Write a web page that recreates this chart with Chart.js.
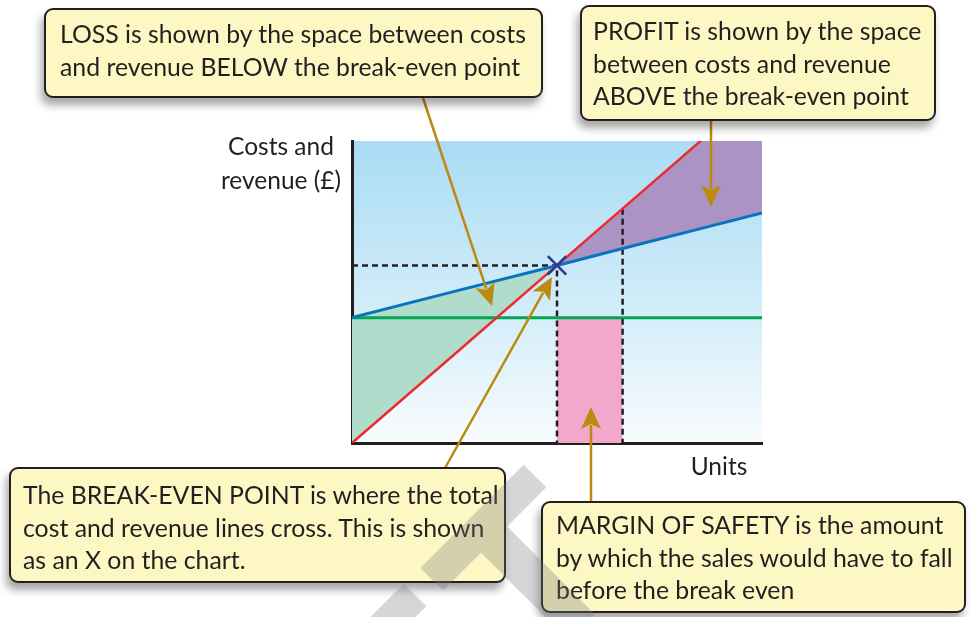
<!DOCTYPE html>
<html>
<head>
<meta charset="utf-8">
<script src="https://cdn.jsdelivr.net/npm/chart.js@4/dist/chart.umd.min.js"></script>
<style>
  body { margin: 0; width: 971px; height: 617px; overflow: hidden; background: #fff; position: relative; font-family: Lato, "Open Sans", sans-serif; color: #231f20; }
  #wrap { position: absolute; left: 0; top: 0; width: 971px; height: 617px; }
  .note { position: absolute; box-sizing: border-box; background: #fdf7c3; border: 2.5px solid #231f20; border-radius: 9px;
          box-shadow: -3px 7px 8px rgba(0,0,0,0.35); font-size: 24.8px; line-height: 32.5px; padding: 5px 0 0 14px; white-space: nowrap; }
  .axis { position: absolute; font-size: 24.5px; line-height: 34px; text-align: center; white-space: nowrap; }
  #marks { position: absolute; left: 0; top: 0; width: 971px; height: 617px; opacity: 0.3; pointer-events: none; overflow: hidden; }
  .mark { position: absolute; background: #787878; transform-origin: 0 50%; }
</style>
</head>
<body>
<div id="wrap"><canvas id="myChart" width="971" height="617"></canvas></div>

<div class="axis" style="left:201px; top:129px; width:160px;">Costs and<br>revenue (£)</div>
<div class="axis" style="left:679px; top:449px; width:80px;">Units</div>

<div class="note" style="left:44px; top:8px; width:499px; height:90px; padding-left:14px; padding-top:8px;">LOSS is shown by the space between costs<br>and revenue BELOW the break-even point</div>
<div class="note" style="left:580px; top:5px; width:356px; height:116px; padding-left:11px; padding-top:8px;">PROFIT is shown by the space<br>between costs and revenue<br>ABOVE the break-even point</div>
<div class="note" style="left:9px; top:467px; width:497px; height:116px; padding-left:12px; padding-top:10px;">The BREAK-EVEN POINT is where the total<br>cost and revenue lines cross. This is shown<br>as an X on the chart.</div>
<div class="note" style="left:541px; top:501px; width:425px; height:112px; padding-left:13px; padding-top:6px;">MARGIN OF SAFETY is the amount<br>by which the sales would have to fall<br>before the break even</div>

<!-- faint watermark bands -->
<div id="marks">
  <div class="mark" style="left:535px; top:460px; width:146px; height:32px; transform: rotate(135deg);"></div>
  <div class="mark" style="left:482.6px; top:510px; width:140px; height:37px; transform: rotate(45deg);"></div>
  <div class="mark" style="left:415px; top:579px; width:70px; height:32px; transform: rotate(135deg);"></div>
</div>

<script>
// units sold (0-100 on a blank axis) and the matching money values (0-100)
const units = [0, 25, 50, 66, 85, 100];
const fixedCosts = [41.5, 41.5, 41.5, 41.5, 41.5, 41.5];
const totalCosts = [41.5, 50.2, 58.8, 64.4, 71.0, 76.2];
const revenue = [0, 29.4, 58.8, 77.6, 100, 117.6];

const breakEvenUnits = 50;
const breakEvenValue = 58.8;
const salesUnits = 66;
const salesValue = 77.6;

const pts = (ys) => units.map((u, i) => ({ x: u, y: ys[i] }));

const bgPlugin = {
  id: "bg",
  beforeDraw(chart) {
    const { ctx, chartArea: a } = chart;
    const g = ctx.createLinearGradient(0, a.top, 0, a.bottom);
    g.addColorStop(0, "#a9dcf5");
    g.addColorStop(0.6, "#d6eef9");
    g.addColorStop(1, "#f8fcfe");
    ctx.save();
    ctx.fillStyle = g;
    ctx.fillRect(a.left, a.top, a.right - a.left, a.bottom - a.top);
    ctx.restore();
  },
};

// gold pointer arrows from the notes to the chart
const arrows = [
  [423, 98, 492, 306],
  [711, 121, 711, 207],
  [445, 468, 552, 277],
  [591, 501, 591, 407],
];

const arrowPlugin = {
  id: "arrows",
  afterDraw(chart) {
    const ctx = chart.ctx;
    ctx.save();
    ctx.strokeStyle = "#bb8a0e";
    ctx.fillStyle = "#bb8a0e";
    ctx.lineWidth = 2.5;
    arrows.forEach(([x1, y1, x2, y2]) => {
      const ang = Math.atan2(y2 - y1, x2 - x1);
      const len = 22, half = 10;
      const bx = x2 - len * Math.cos(ang);
      const by = y2 - len * Math.sin(ang);
      ctx.beginPath();
      ctx.moveTo(x1, y1);
      ctx.lineTo(bx + 4 * Math.cos(ang), by + 4 * Math.sin(ang));
      ctx.stroke();
      ctx.beginPath();
      ctx.moveTo(x2, y2);
      ctx.lineTo(bx - half * Math.sin(ang), by + half * Math.cos(ang));
      ctx.lineTo(bx + 5 * Math.cos(ang), by + 5 * Math.sin(ang));
      ctx.lineTo(bx + half * Math.sin(ang), by - half * Math.cos(ang));
      ctx.closePath();
      ctx.fill();
    });
    ctx.restore();
  },
};

const ctx = document.getElementById("myChart");

new Chart(ctx, {
  type: "line",
  data: {
    datasets: [
      {
        label: "Revenue",
        data: pts(revenue),
        borderColor: "#ee2a2e",
        borderWidth: 2.5,
        pointRadius: 0,
        fill: { target: 1, above: "#ab93c3", below: "#b0dccb" },
        order: 1,
      },
      {
        label: "Total costs",
        data: pts(totalCosts),
        borderColor: "#0a73bd",
        borderWidth: 3,
        pointRadius: 0,
        fill: false,
        order: 2,
      },
      {
        label: "Fixed costs",
        data: pts(fixedCosts),
        borderColor: "#00a651",
        borderWidth: 3,
        pointRadius: 0,
        fill: false,
        order: 3,
      },
      {
        label: "Margin of safety",
        data: [{ x: breakEvenUnits, y: fixedCosts[0] }, { x: salesUnits, y: fixedCosts[0] }],
        borderWidth: 0,
        pointRadius: 0,
        backgroundColor: "#f3a8cb",
        fill: "origin",
        order: 5,
      },
      {
        label: "Break-even guide",
        data: [{ x: 0, y: breakEvenValue }, { x: breakEvenUnits, y: breakEvenValue }, { x: breakEvenUnits, y: 0 }],
        borderColor: "#231f20",
        borderWidth: 2.5,
        borderDash: [6, 4],
        pointRadius: 0,
        fill: false,
        order: 4,
      },
      {
        label: "Sales guide",
        data: [{ x: salesUnits, y: salesValue }, { x: salesUnits, y: 0 }],
        borderColor: "#231f20",
        borderWidth: 2.5,
        borderDash: [6, 4],
        pointRadius: 0,
        fill: false,
        order: 4,
      },
      {
        label: "Break-even point",
        data: [{ x: breakEvenUnits, y: breakEvenValue }],
        showLine: false,
        pointStyle: "crossRot",
        pointRadius: 13,
        borderColor: "#2b3990",
        borderWidth: 2.5,
        order: 0,
      },
    ],
  },
  options: {
    responsive: false,
    animation: false,
    events: [],
    layout: { padding: { left: 352, right: 209, top: 141, bottom: 174 } },
    plugins: {
      legend: { display: false },
      tooltip: { enabled: false },
      filler: { drawTime: "beforeDatasetsDraw" },
    },
    scales: {
      x: {
        type: "linear",
        min: 0,
        max: 100,
        grid: { display: false, drawTicks: false },
        ticks: { display: false },
        border: { display: true, color: "#231f20", width: 3 },
        afterFit: (s) => { s.height = 0; },
      },
      y: {
        min: 0,
        max: 100,
        grid: { display: false, drawTicks: false },
        ticks: { display: false },
        border: { display: true, color: "#231f20", width: 3 },
        afterFit: (s) => { s.width = 0; },
      },
    },
  },
  plugins: [bgPlugin, arrowPlugin],
});
</script>
</body>
</html>
